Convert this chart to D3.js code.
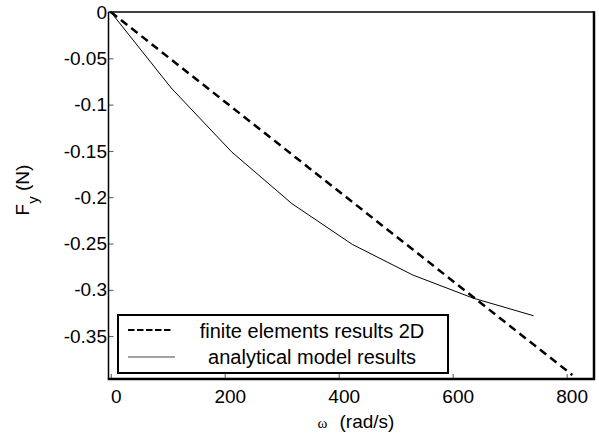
<!DOCTYPE html>
<html>
<head>
<meta charset="utf-8">
<script src="https://cdn.jsdelivr.net/npm/d3@7"></script>
<style>
  body { margin: 0; background: #fff; }
  svg { display: block; font-family: "Liberation Sans", Arial, sans-serif; }
</style>
</head>
<body>
<div id="chart"></div>
<script>
// data
const omegaAnalytical = [0, 106, 212, 318, 424, 530, 636, 742];
const forceAnalytical = [0, -0.082, -0.151, -0.207, -0.251, -0.284, -0.309, -0.328];
const omegaFE = [0, 106, 212, 318, 424, 530, 636, 742, 810];
const forceFE = [0, -0.0513, -0.1026, -0.1539, -0.2052, -0.2565, -0.3078, -0.3591, -0.392];
const xTicks = [0, 200, 400, 600, 800];
const yTicks = [0, -0.05, -0.1, -0.15, -0.2, -0.25, -0.3, -0.35];
const yTickLabels = ["0", "-0.05", "-0.1", "-0.15", "-0.2", "-0.25", "-0.3", "-0.35"];
const legendLabels = ["finite elements results 2D", "analytical model results"];

const W = 599, H = 436;
const margin = {top: 12, right: 5, bottom: 57, left: 108.5};

const svg = d3.select("#chart").append("svg")
  .attr("width", W)
  .attr("height", H);

svg.append("rect").attr("width", W).attr("height", H).attr("fill", "white");

const x = d3.scaleLinear().domain([-4, 848]).range([margin.left, W - margin.right]);
const y = d3.scaleLinear().domain([-0.3963, 0]).range([H - margin.bottom, margin.top]);

const x0 = x.range()[0], x1 = x.range()[1], y0 = y.range()[0], y1 = y.range()[1];

// axes (ticks inward)
const xAxis = svg.append("g")
  .attr("transform", "translate(0," + y0 + ")")
  .call(d3.axisBottom(x).tickValues(xTicks).tickSizeInner(-5).tickSizeOuter(0).tickFormat(d3.format("d")));
xAxis.select(".domain").remove();
xAxis.selectAll(".tick line").attr("stroke", "#555");
xAxis.selectAll(".tick text")
  .attr("y", 24).attr("dy", 0).attr("dx", 5)
  .attr("font-size", 19).attr("font-family", "Liberation Sans, Arial, sans-serif").attr("fill", "#000");

const yAxis = svg.append("g")
  .attr("transform", "translate(" + x0 + ",0)")
  .call(d3.axisLeft(y).tickValues(yTicks).tickSizeInner(-5).tickSizeOuter(0)
    .tickFormat((d, i) => yTickLabels[i]));
yAxis.select(".domain").remove();
yAxis.selectAll(".tick line").attr("stroke", "#555");
yAxis.selectAll(".tick text")
  .attr("x", -1.5)
  .attr("font-size", 19).attr("font-family", "Liberation Sans, Arial, sans-serif").attr("fill", "#000");

// lines
const feData = omegaFE.map((w, i) => [w, forceFE[i]]);
const anData = omegaAnalytical.map((w, i) => [w, forceAnalytical[i]]);
const line = d3.line().x(d => x(d[0])).y(d => y(d[1]));

svg.append("path")
  .datum(anData)
  .attr("d", line)
  .attr("fill", "none")
  .attr("stroke", "#000")
  .attr("stroke-width", 1);

svg.append("path")
  .datum(feData)
  .attr("d", line)
  .attr("fill", "none")
  .attr("stroke", "#000")
  .attr("stroke-width", 2.5)
  .attr("stroke-dasharray", "8,5");

// frame
const frame = svg.append("g").attr("stroke", "#000");
frame.append("line").attr("x1", x0).attr("y1", y1).attr("x2", x1).attr("y2", y1).attr("stroke-width", 1.5);
frame.append("line").attr("x1", x0).attr("y1", y1).attr("x2", x0).attr("y2", y0).attr("stroke-width", 1.5);
frame.append("line").attr("x1", x1).attr("y1", y1 - 0.75).attr("x2", x1).attr("y2", y0 + 1).attr("stroke-width", 2.5);
frame.append("line").attr("x1", x0 - 0.75).attr("y1", y0).attr("x2", x1 + 1).attr("y2", y0).attr("stroke-width", 2.5);

// legend
const legend = svg.append("g");
legend.append("rect")
  .attr("x", 118).attr("y", 315)
  .attr("width", 330).attr("height", 58)
  .attr("fill", "white").attr("stroke", "#000").attr("stroke-width", 2);

const legendRows = legend.selectAll("g.row")
  .data(legendLabels)
  .enter().append("g")
  .attr("class", "row")
  .attr("transform", (d, i) => "translate(0," + (330 + i * 27) + ")");

legendRows.append("line")
  .attr("x1", 128).attr("x2", (d, i) => i === 0 ? 172 : 175)
  .attr("y1", 0).attr("y2", 0)
  .attr("stroke", (d, i) => i === 0 ? "#000" : "#444")
  .attr("stroke-width", (d, i) => i === 0 ? 2.2 : 1)
  .attr("stroke-dasharray", (d, i) => i === 0 ? "6.5,2.5" : null);

legendRows.append("text")
  .attr("x", 312)
  .attr("y", (d, i) => i === 0 ? 8 : 7)
  .attr("text-anchor", "middle")
  .attr("font-size", 20)
  .text(d => d);

// axis titles
const yTitle = svg.append("text")
  .attr("transform", "translate(29,190) rotate(-90)")
  .attr("text-anchor", "middle")
  .attr("font-size", 19);
yTitle.append("tspan").text("F");
yTitle.append("tspan").attr("dy", 9).attr("font-size", 15).text("y");
yTitle.append("tspan").attr("dy", -9).text(" (N)");

const xTitle = svg.append("text")
  .attr("x", 356).attr("y", 428)
  .attr("text-anchor", "middle")
  .attr("font-size", 19);
xTitle.append("tspan").attr("font-family", "Liberation Serif, serif").attr("font-size", 15).text("ω");
xTitle.append("tspan").attr("dx", 12).text("(rad/s)");
</script>
</body>
</html>
